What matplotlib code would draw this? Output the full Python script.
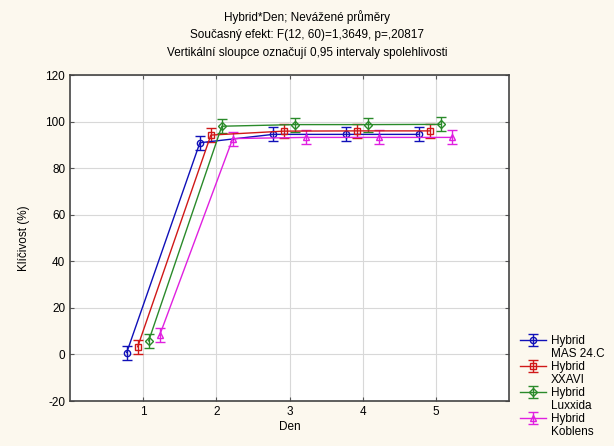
import matplotlib.pyplot as plt
from matplotlib.lines import Line2D
import numpy as np

plt.rcParams['font.family'] = ['Liberation Sans', 'DejaVu Sans']
plt.rcParams['axes.unicode_minus'] = False

days = [1, 2, 3, 4, 5]
labels = ["Hybrid\nMAS 24.C", "Hybrid\nXXAVI", "Hybrid\nLuxxida", "Hybrid\nKoblens"]
mas = [0.8, 90.9, 94.5, 94.5, 94.5]
xxavi = [3.3, 94.2, 95.9, 96.0, 96.0]
luxxida = [5.8, 98.0, 98.7, 98.7, 98.8]
koblens = [8.2, 92.7, 93.2, 93.2, 93.2]
ci = [3.0, 3.0, 3.0, 3.0]
series = [mas, xxavi, luxxida, koblens]
colors = ["#1010b8", "#d01818", "#2a8a2a", "#e020e0"]
markers = ["o", "s", "D", "^"]
offsets = [-0.225, -0.075, 0.075, 0.225]

fig = plt.figure(figsize=(6.14, 4.46), dpi=100, facecolor="#fcf8ee")
ax = fig.add_axes([70/614, 1-401/446, 439/614, 326/446])
ax.set_facecolor("white")

handles = []
texts = []
for vals, lab, col, mk, off, e in zip(series, labels, colors, markers, offsets, ci):
    x = np.array(days) + off
    h = ax.errorbar(x, vals, yerr=e, color=col, marker=mk, markersize=4.5,
                    markerfacecolor="none", markeredgewidth=1, linewidth=1,
                    capsize=3.5, elinewidth=1)
    first, second = lab.split("\n")
    handles += [h, Line2D([], [], linestyle="none")]
    texts += [first, second]

ax.set_xlim(0, 6)
ax.set_ylim(-20, 120)
ax.set_xticks(days)
ax.set_yticks(range(-20, 121, 20))
ax.grid(True, color="#d8d8d8", linewidth=0.8)
ax.set_axisbelow(True)
ax.tick_params(direction="in", top=True, right=True, labelsize=8.5, length=3,
               color="#555555")
for s in ax.spines.values():
    s.set_color("#444444")
    s.set_linewidth(1.2)
ax.set_xlabel("Den", fontsize=8.5, labelpad=2)
ax.set_ylabel("Klíčivost (%)", fontsize=8.5, labelpad=11)

fig.text(0.5, 1-17/446, "Hybrid*Den; Nevážené průměry", ha="center", va="center", fontsize=8.5)
fig.text(0.5, 1-35/446, "Současný efekt: F(12, 60)=1,3649, p=,20817", ha="center", va="center", fontsize=8.5)
fig.text(0.5, 1-53/446, "Vertikální sloupce označují 0,95 intervaly spolehlivosti", ha="center", va="center", fontsize=8.5)

fig.legend(handles, texts, loc="upper left", bbox_to_anchor=(512/614, 1-327/446),
           frameon=False, fontsize=8.5, handlelength=2.2, handletextpad=0.4,
           labelspacing=0.08, borderpad=0.2)

fig.savefig("out.png", dpi=100, facecolor=fig.get_facecolor())
